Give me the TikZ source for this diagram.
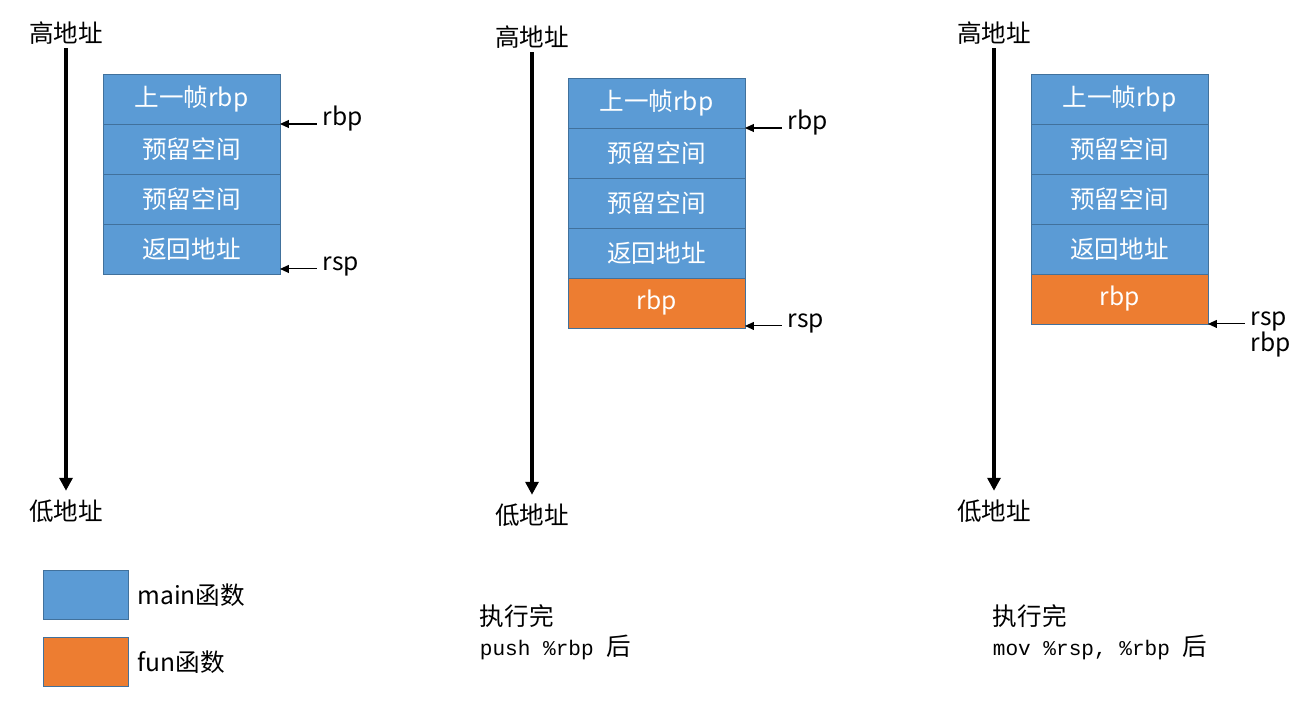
\documentclass[tikz,border=0pt]{standalone}
\usepackage{fontspec}
\setmainfont{Noto Sans CJK SC}
\newfontfamily\codefont{Liberation Mono}
\usetikzlibrary{positioning,arrows.meta}

\definecolor{mainfill}{HTML}{5B9BD5}
\definecolor{funfill}{HTML}{ED7D31}
\definecolor{cellline}{HTML}{41719C}

\newcommand{\asmtext}[1]{{\codefont\fontsize{12}{14}\selectfont #1}}

\tikzset{
    stackcell/.style={draw=cellline, fill=mainfill, text=white, minimum width=3.54cm,
        minimum height=1cm, inner sep=0pt, outer sep=0pt, font=\fontsize{14}{16}\selectfont},
    funcell/.style={stackcell, fill=funfill},
    addr/.style={inner sep=2pt, font=\fontsize{14}{16}\selectfont},
    reg/.style={inner sep=3pt, text height=7pt, text depth=5pt, font=\fontsize{14}{16}\selectfont},
    regarrow/.style={-{Triangle[length=0.18cm,width=0.16cm]}, line width=0.6pt},
    addraxis/.style={-{Triangle[length=0.26cm,width=0.26cm]}, line width=2pt, shorten >=0.1cm},
    legendbox/.style={draw=cellline, minimum width=1.7cm, minimum height=0.98cm, inner sep=0pt},
}

\begin{document}
\begin{tikzpicture}[x=0.02cm, y=-0.02cm]
    \useasboundingbox (0,0) rectangle (1313,713);

    % 地址方向
    \foreach \n/\x/\t/\b in {1/66/33/511, 2/532/37/515, 3/994/33/511} {
            \node[addr] (hi\n) at (\x,\t) {高地址};
            \node[addr] (lo\n) at (\x,\b) {低地址};
            \draw[addraxis] (hi\n) -- (lo\n);
        }

    % 栈帧
    \foreach \n/\x/\y in {1/103/74, 2/568/78, 3/1031/74} {
            \node[stackcell, anchor=north west] (s\n1) at (\x,\y) {上一帧rbp};
            \node[stackcell, below=0pt of s\n1] (s\n2) {预留空间};
            \node[stackcell, below=0pt of s\n2] (s\n3) {预留空间};
            \node[stackcell, below=0pt of s\n3] (s\n4) {返回地址};
        }
    \node[funcell, below=0pt of s24] (s25) {rbp};
    \node[funcell, below=0pt of s34] (s35) {rbp};

    % 寄存器指向
    \node[reg, right=0.74cm of s11.south east] (rbp1) {rbp};
    \draw[regarrow] (rbp1) -- (s11.south east);
    \coordinate (top1) at ([yshift=0.1cm]s14.south east);
    \node[reg, right=0.74cm of top1] (rsp1) {rsp};
    \draw[regarrow] (rsp1) -- (top1);

    \node[reg, right=0.74cm of s21.south east] (rbp2) {rbp};
    \draw[regarrow] (rbp2) -- (s21.south east);
    \coordinate (top2) at ([yshift=0.04cm]s25.south east);
    \node[reg, right=0.74cm of top2] (rsp2) {rsp};
    \draw[regarrow] (rsp2) -- (top2);

    \node[reg, right=0.74cm of s35.south east] (rsp3) {rsp};
    \node[reg, below=-4pt of rsp3.south west, anchor=north west] (rbp3) {rbp};
    \draw[regarrow] (rsp3) -- (s35.south east);

    % 图例
    \node[legendbox, fill=mainfill, anchor=north west] (keymain) at (43,570) {};
    \node[addr, right=0.1cm of keymain] (keymaintext) {main函数};
    \node[legendbox, fill=funfill, anchor=north west] (keyfun) at (43,637) {};
    \node[addr, right=0.1cm of keyfun] (keyfuntext) {fun函数};

    % 说明
    \node[addr, anchor=west] (done2) at (476,616) {执行完};
    \node[addr, anchor=west] (cmd2) at (476,647) {\asmtext{push \%rbp }后};
    \node[addr, anchor=west] (done3) at (989,616) {执行完};
    \node[addr, anchor=west] (cmd3) at (989,647) {\asmtext{mov \%rsp, \%rbp }后};
\end{tikzpicture}
\end{document}
